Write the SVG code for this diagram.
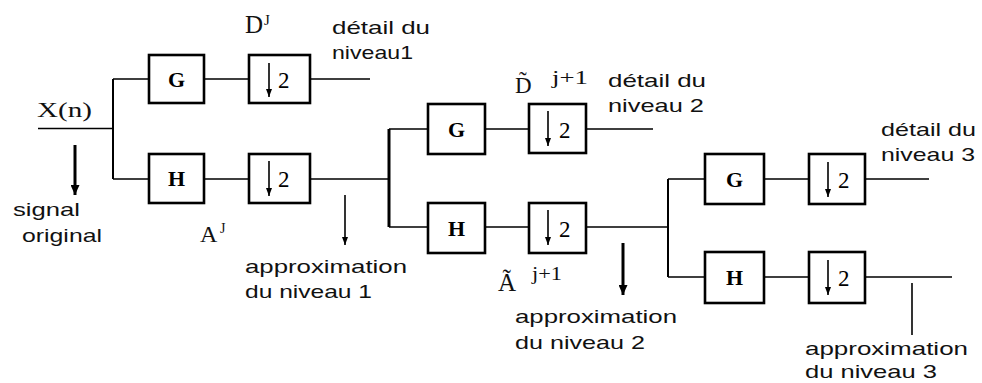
<svg xmlns="http://www.w3.org/2000/svg" width="982" height="383" viewBox="0 0 982 383">
  <style>
    .box { fill: #fff; stroke: #000; stroke-width: 2.6; }
    .wire { fill: none; stroke: #000; stroke-width: 1.6; }
    .filt { font-family: "Liberation Serif", "DejaVu Serif", serif; font-weight: bold; font-size: 22px; text-anchor: middle; fill: #000; }
    .two { font-family: "Liberation Serif", "DejaVu Serif", serif; font-size: 23px; fill: #000; }
    .lbl { font-family: "Liberation Sans", Arial, sans-serif; font-size: 19px; fill: #111; }
    .sym { font-family: "Liberation Serif", "DejaVu Serif", serif; fill: #111; }
    .inp { font-family: "Liberation Serif", "DejaVu Serif", serif; font-size: 20px; fill: #111; }
  </style>
  <defs>
    <!-- arrowheads drawn along +x so that orient="auto" follows the line -->
    <marker id="headSmall" viewBox="0 0 8 6" refX="8" refY="3" markerWidth="8" markerHeight="6" markerUnits="userSpaceOnUse" orient="auto">
      <path d="M0,0 L8,3 L0,6 Z" fill="#000"/>
    </marker>
    <marker id="headBig" viewBox="0 0 10 9" refX="10" refY="4.5" markerWidth="10" markerHeight="9" markerUnits="userSpaceOnUse" orient="auto">
      <path d="M0,0 L10,4.5 L0,9 Z" fill="#000"/>
    </marker>
  </defs>

  <!-- connectors -->
  <g id="connectors">
    <!-- input and first split -->
    <path class="wire" d="M38,128.5 H113"/>
    <path class="wire" style="stroke-width:2" d="M113,79 V179"/>
    <path class="wire" d="M113,79 H149 M204,79 H249 M310,79 H370"/>
    <path class="wire" d="M113,179 H149 M204,179 H249 M310,179 H389"/>
    <!-- second split -->
    <path class="wire" style="stroke-width:3" d="M389,129 V227"/>
    <path class="wire" d="M389,129 H428 M485,129 H529 M586,129 H653"/>
    <path class="wire" d="M389,227 H428 M485,227 H529 M586,227 H668"/>
    <!-- third split -->
    <path class="wire" style="stroke-width:2" d="M668,179 V277"/>
    <path class="wire" d="M668,179 H705 M764,179 H809 M865,179 H929"/>
    <path class="wire" d="M668,277 H705 M764,277 H809 M865,277 H952"/>
    <!-- pointers to the labels -->
    <line x1="75" y1="145" x2="75" y2="195" stroke="#000" stroke-width="3" marker-end="url(#headBig)"/>
    <line x1="345" y1="195" x2="345" y2="245" stroke="#000" stroke-width="1.6" marker-end="url(#headSmall)"/>
    <line x1="623" y1="243" x2="623" y2="295" stroke="#000" stroke-width="3" marker-end="url(#headBig)"/>
    <line x1="912" y1="283" x2="912" y2="335" stroke="#000" stroke-width="1.6"/>
  </g>

  <!-- level 1 -->
  <g id="g1">
    <rect class="box" x="149" y="55" width="55" height="48"/>
    <text class="filt" x="176.5" y="87">G</text>
  </g>
  <g id="h1">
    <rect class="box" x="149" y="154" width="55" height="49"/>
    <text class="filt" x="176.5" y="186">H</text>
  </g>
  <g id="dec1g">
    <rect class="box" x="249" y="55" width="61" height="48"/>
    <line x1="269" y1="63" x2="269" y2="97" stroke="#000" stroke-width="1.6" marker-end="url(#headSmall)"/>
    <text class="two" x="278" y="88">2</text>
  </g>
  <g id="dec1h">
    <rect class="box" x="249" y="154" width="61" height="49"/>
    <line x1="269" y1="161" x2="269" y2="196" stroke="#000" stroke-width="1.6" marker-end="url(#headSmall)"/>
    <text class="two" x="278" y="187">2</text>
  </g>

  <!-- level 2 -->
  <g id="g2">
    <rect class="box" x="428" y="104" width="57" height="50"/>
    <text class="filt" x="456.5" y="137">G</text>
  </g>
  <g id="h2">
    <rect class="box" x="428" y="203" width="57" height="50"/>
    <text class="filt" x="456.5" y="236">H</text>
  </g>
  <g id="dec2g">
    <rect class="box" x="529" y="104" width="57" height="49"/>
    <line x1="548" y1="111" x2="548" y2="146" stroke="#000" stroke-width="1.6" marker-end="url(#headSmall)"/>
    <text class="two" x="559" y="138">2</text>
  </g>
  <g id="dec2h">
    <rect class="box" x="529" y="203" width="57" height="50"/>
    <line x1="548" y1="210" x2="548" y2="245" stroke="#000" stroke-width="1.6" marker-end="url(#headSmall)"/>
    <text class="two" x="559" y="237">2</text>
  </g>

  <!-- level 3 -->
  <g id="g3">
    <rect class="box" x="705" y="154" width="59" height="50"/>
    <text class="filt" x="734.5" y="187">G</text>
  </g>
  <g id="h3">
    <rect class="box" x="705" y="252" width="59" height="51"/>
    <text class="filt" x="734.5" y="285">H</text>
  </g>
  <g id="dec3g">
    <rect class="box" x="809" y="154" width="56" height="50"/>
    <line x1="828" y1="162" x2="828" y2="197" stroke="#000" stroke-width="1.6" marker-end="url(#headSmall)"/>
    <text class="two" x="838" y="188">2</text>
  </g>
  <g id="dec3h">
    <rect class="box" x="809" y="252" width="56" height="51"/>
    <line x1="828" y1="260" x2="828" y2="295" stroke="#000" stroke-width="1.6" marker-end="url(#headSmall)"/>
    <text class="two" x="838" y="286">2</text>
  </g>

  <!-- input and coefficient symbols -->
  <g id="input">
    <text class="inp" x="37" y="117" textLength="55" lengthAdjust="spacingAndGlyphs">X(n)</text>
  </g>
  <g id="symbols">
    <text class="sym" x="245" y="33" font-size="25">D</text>
    <text class="sym" x="264" y="25" font-size="15">J</text>
    <text class="sym" x="200" y="242" font-size="24">A</text>
    <text class="sym" x="220" y="233" font-size="14">J</text>
    <text class="sym" x="515" y="93" font-size="23">D̃</text>
    <text class="sym" x="552" y="84" font-size="18" textLength="36" lengthAdjust="spacingAndGlyphs">j+1</text>
    <text class="sym" x="498" y="291" font-size="25">Ã</text>
    <text class="sym" x="532" y="280" font-size="18" textLength="30" lengthAdjust="spacingAndGlyphs">j+1</text>
  </g>

  <!-- captions -->
  <g id="captions">
    <text class="lbl" x="332" y="34" textLength="98" lengthAdjust="spacingAndGlyphs">détail du</text>
    <text class="lbl" x="332" y="59" textLength="81" lengthAdjust="spacingAndGlyphs">niveau1</text>
    <text class="lbl" x="608" y="87" textLength="98" lengthAdjust="spacingAndGlyphs">détail du</text>
    <text class="lbl" x="608" y="112" textLength="96" lengthAdjust="spacingAndGlyphs">niveau 2</text>
    <text class="lbl" x="881" y="136" textLength="95" lengthAdjust="spacingAndGlyphs">détail du</text>
    <text class="lbl" x="881" y="161" textLength="94" lengthAdjust="spacingAndGlyphs">niveau 3</text>
    <text class="lbl" x="13" y="216" textLength="67" lengthAdjust="spacingAndGlyphs">signal</text>
    <text class="lbl" x="22" y="242" textLength="80" lengthAdjust="spacingAndGlyphs">original</text>
    <text class="lbl" x="245" y="273" textLength="162" lengthAdjust="spacingAndGlyphs">approximation</text>
    <text class="lbl" x="245" y="298" textLength="127" lengthAdjust="spacingAndGlyphs">du niveau 1</text>
    <text class="lbl" x="515" y="323" textLength="162" lengthAdjust="spacingAndGlyphs">approximation</text>
    <text class="lbl" x="515" y="349" textLength="130" lengthAdjust="spacingAndGlyphs">du niveau 2</text>
    <text class="lbl" x="805" y="355" textLength="163" lengthAdjust="spacingAndGlyphs">approximation</text>
    <text class="lbl" x="805" y="378" textLength="132" lengthAdjust="spacingAndGlyphs">du niveau 3</text>
  </g>
</svg>
